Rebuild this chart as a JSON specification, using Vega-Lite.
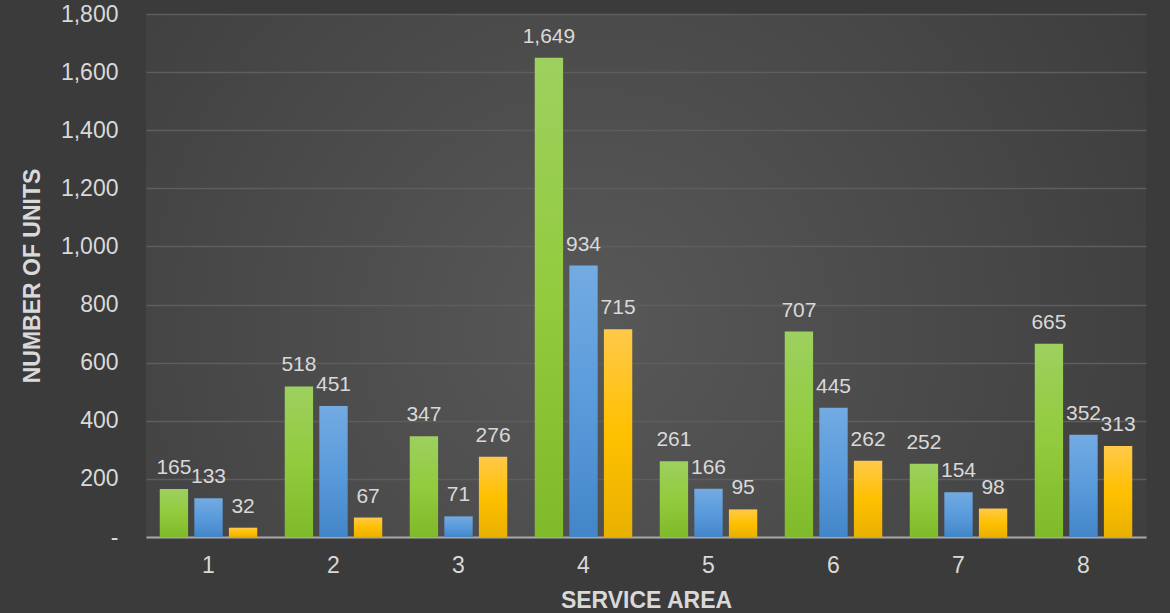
{
  "$schema": "https://vega.github.io/schema/vega-lite/v6.json",
  "width": 1000,
  "height": 523,
  "autosize": "none",
  "padding": {"left": 146, "top": 14, "right": 24, "bottom": 76},
  "background": "#3b3b3b",
  "config": {
    "view": {
      "stroke": null,
      "fill": {
        "gradient": "radial",
        "x1": 0.45, "y1": 0.55, "x2": 0.45, "y2": 0.55, "r1": 0, "r2": 0.75,
        "stops": [
          {"offset": 0, "color": "#585858"},
          {"offset": 1, "color": "#383838"}
        ]
      }
    },
    "font": "Liberation Sans"
  },
  "data": {
    "values": [
      {"area": "1", "series": "Series 1", "units": 165},
      {"area": "1", "series": "Series 2", "units": 133},
      {"area": "1", "series": "Series 3", "units": 32},
      {"area": "2", "series": "Series 1", "units": 518},
      {"area": "2", "series": "Series 2", "units": 451},
      {"area": "2", "series": "Series 3", "units": 67},
      {"area": "3", "series": "Series 1", "units": 347},
      {"area": "3", "series": "Series 2", "units": 71},
      {"area": "3", "series": "Series 3", "units": 276},
      {"area": "4", "series": "Series 1", "units": 1649},
      {"area": "4", "series": "Series 2", "units": 934},
      {"area": "4", "series": "Series 3", "units": 715},
      {"area": "5", "series": "Series 1", "units": 261},
      {"area": "5", "series": "Series 2", "units": 166},
      {"area": "5", "series": "Series 3", "units": 95},
      {"area": "6", "series": "Series 1", "units": 707},
      {"area": "6", "series": "Series 2", "units": 445},
      {"area": "6", "series": "Series 3", "units": 262},
      {"area": "7", "series": "Series 1", "units": 252},
      {"area": "7", "series": "Series 2", "units": 154},
      {"area": "7", "series": "Series 3", "units": 98},
      {"area": "8", "series": "Series 1", "units": 665},
      {"area": "8", "series": "Series 2", "units": 352},
      {"area": "8", "series": "Series 3", "units": 313}
    ]
  },
  "encoding": {
    "x": {
      "field": "area",
      "type": "nominal",
      "sort": null,
      "scale": {"paddingInner": 0.22, "paddingOuter": 0.11},
      "axis": {
        "title": "SERVICE AREA",
        "titleFont": "Liberation Sans",
        "titleFontSize": 23,
        "titleFontWeight": "bold",
        "titleColor": "#d9d9d9",
        "titlePadding": 12,
        "labelAngle": 0,
        "labelFontSize": 23,
        "labelColor": "#d9d9d9",
        "labelPadding": 17,
        "ticks": false,
        "domainColor": "#a6a6a6",
        "domainWidth": 2,
        "grid": false
      }
    },
    "xOffset": {
      "field": "series",
      "type": "nominal",
      "scale": {"domain": ["Series 1", "Series 2", "Series 3"], "paddingInner": 0.18, "paddingOuter": 0}
    },
    "y": {
      "field": "units",
      "type": "quantitative",
      "scale": {"domain": [0, 1800], "nice": false},
      "axis": {
        "title": "NUMBER OF UNITS",
        "titleFont": "Liberation Sans",
        "titleFontSize": 23,
        "titleFontWeight": "bold",
        "titleColor": "#d9d9d9",
        "titlePadding": 16,
        "values": [0, 200, 400, 600, 800, 1000, 1200, 1400, 1600, 1800],
        "labelExpr": "datum.value == 0 ? '-' : format(datum.value, ',')",
        "labelFontSize": 23,
        "labelColor": "#d9d9d9",
        "labelPadding": 28,
        "ticks": false,
        "domain": false,
        "gridColor": "#5e5e5e",
        "gridWidth": 1.5
      }
    }
  },
  "layer": [
    {
      "transform": [{"filter": "datum.series == 'Series 1'"}],
      "mark": {
        "type": "bar",
        "fill": {
          "gradient": "linear", "x1": 0, "y1": 0, "x2": 0, "y2": 1,
          "stops": [
            {"offset": 0, "color": "#9dd05f"},
            {"offset": 0.5, "color": "#92cb3d"},
            {"offset": 1, "color": "#7fba2a"}
          ]
        }
      }
    },
    {
      "transform": [{"filter": "datum.series == 'Series 2'"}],
      "mark": {
        "type": "bar",
        "fill": {
          "gradient": "linear", "x1": 0, "y1": 0, "x2": 0, "y2": 1,
          "stops": [
            {"offset": 0, "color": "#73abe2"},
            {"offset": 0.5, "color": "#5a9bdb"},
            {"offset": 1, "color": "#4386c8"}
          ]
        }
      }
    },
    {
      "transform": [{"filter": "datum.series == 'Series 3'"}],
      "mark": {
        "type": "bar",
        "fill": {
          "gradient": "linear", "x1": 0, "y1": 0, "x2": 0, "y2": 1,
          "stops": [
            {"offset": 0, "color": "#ffc94a"},
            {"offset": 0.5, "color": "#ffc000"},
            {"offset": 1, "color": "#e8b000"}
          ]
        }
      }
    },
    {
      "mark": {
        "type": "text",
        "baseline": "bottom",
        "dy": -11,
        "fontSize": 21,
        "color": "#d9d9d9",
        "font": "Liberation Sans"
      },
      "encoding": {
        "text": {"field": "units", "type": "quantitative", "format": ","}
      }
    }
  ]
}
